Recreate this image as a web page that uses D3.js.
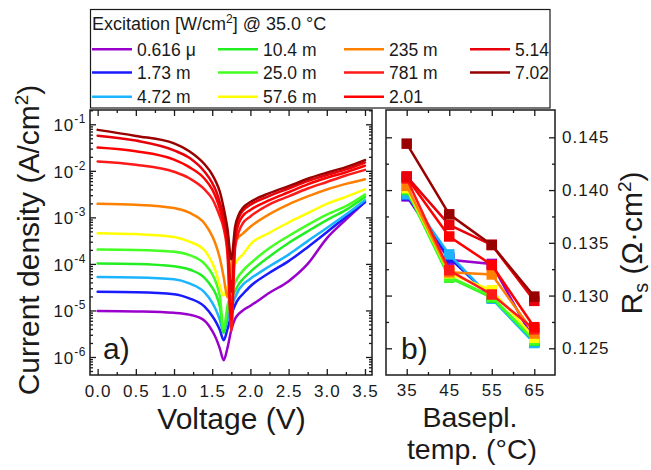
<!DOCTYPE html>
<html><head><meta charset="utf-8">
<script src="https://cdn.jsdelivr.net/npm/d3@7"></script>
<style>
body{margin:0;background:#fff;}
svg{font-family:Arial,"Liberation Sans",sans-serif;}
</style></head><body>
<svg id="chart" width="651" height="470"></svg>
<script>
// ---------- data ----------
const seriesNames = ["0.616 \u03bc","1.73 m","4.72 m","10.4 m","25.0 m","57.6 m","235 m","781 m","2.01","5.14","7.02"];
const seriesColors = ["#9900cc","#1a1aff","#1ab4ff","#22ee22","#44ff22","#ffff00","#ff8000","#ff1a1a","#ff0000","#e8000a","#990000"];

// voltage grid (V)
const voltage = [0, 0.5, 1.0, 1.2, 1.4, 1.5, 1.55, 1.6, 1.65, 1.7, 1.75, 1.8, 1.85, 1.9, 2.0, 2.25, 2.5, 2.75, 3.0, 3.25, 3.5];
// log10 of |current density| (A/cm^2), one array per excitation
const logJ_0616u = [-5.01,-5.02,-5.05,-5.09,-5.22,-5.44,-5.60,-5.82,-6.07,-5.80,-5.42,-5.18,-5.07,-5.00,-4.90,-4.62,-4.37,-4.00,-3.45,-3.05,-2.67];
const logJ_173m  = [-4.60,-4.61,-4.65,-4.74,-4.92,-5.12,-5.25,-5.42,-5.64,-5.40,-5.10,-4.88,-4.74,-4.65,-4.48,-4.19,-3.94,-3.64,-3.32,-2.99,-2.67];
const logJ_472m  = [-4.28,-4.29,-4.33,-4.42,-4.61,-4.83,-4.99,-5.20,-5.48,-5.20,-4.92,-4.72,-4.55,-4.45,-4.32,-4.05,-3.80,-3.51,-3.23,-2.94,-2.63];
const logJ_104m  = [-3.99,-4.00,-4.05,-4.12,-4.30,-4.51,-4.66,-4.92,-5.48,-5.00,-4.75,-4.58,-4.43,-4.33,-4.17,-3.84,-3.55,-3.30,-3.06,-2.84,-2.56];
const logJ_250m  = [-3.69,-3.70,-3.74,-3.81,-4.00,-4.22,-4.40,-4.70,-5.40,-4.90,-4.60,-4.40,-4.25,-4.15,-3.99,-3.66,-3.40,-3.16,-2.94,-2.76,-2.51];
const logJ_576m  = [-3.34,-3.36,-3.42,-3.52,-3.71,-3.98,-4.18,-4.48,-4.68,-4.50,-4.20,-4.00,-3.88,-3.80,-3.58,-3.33,-3.11,-2.91,-2.71,-2.56,-2.40];
const logJ_235m  = [-2.71,-2.73,-2.80,-2.90,-3.13,-3.40,-3.60,-3.88,-4.28,-4.72,-4.00,-3.55,-3.42,-3.35,-3.20,-2.93,-2.72,-2.55,-2.40,-2.28,-2.18];
const logJ_781m  = [-1.80,-1.87,-2.02,-2.16,-2.40,-2.60,-2.77,-2.98,-3.24,-3.80,-5.45,-3.65,-3.30,-3.13,-2.98,-2.72,-2.55,-2.38,-2.24,-2.10,-1.98];
const logJ_201   = [-1.50,-1.58,-1.76,-1.92,-2.17,-2.40,-2.58,-2.82,-3.13,-3.65,-5.20,-3.50,-3.12,-2.97,-2.84,-2.63,-2.46,-2.29,-2.15,-2.03,-1.89];
const logJ_514   = [-1.245,-1.35,-1.56,-1.72,-2.02,-2.26,-2.43,-2.68,-3.00,-3.50,-4.60,-3.35,-3.00,-2.86,-2.73,-2.54,-2.38,-2.22,-2.09,-1.97,-1.82];
const logJ_702   = [-1.12,-1.25,-1.41,-1.58,-1.86,-2.08,-2.24,-2.45,-2.80,-3.25,-3.90,-3.20,-2.93,-2.80,-2.67,-2.48,-2.33,-2.17,-2.04,-1.92,-1.77];

// series resistance (Ohm cm^2) vs baseplate temperature
const temperatures = [35, 45, 55, 65];
const rs_0616u = [0.1394, 0.1334, 0.1330, 0.1257];
const rs_173m  = [0.1395, 0.1336, 0.1298, 0.1256];
const rs_472m  = [0.1396, 0.1339, 0.1297, 0.1255];
const rs_104m  = [0.1400, 0.1317, 0.1298, 0.1257];
const rs_250m  = [0.1401, 0.1318, 0.1299, 0.1258];
const rs_576m  = [0.1402, 0.1321, 0.1305, 0.1260];
const rs_235m  = [0.1404, 0.1322, 0.1320, 0.1264];
const rs_781m  = [0.1411, 0.1324, 0.1301, 0.1268];
const rs_201   = [0.1412, 0.1356, 0.1329, 0.1270];
const rs_514   = [0.1413, 0.1367, 0.1348, 0.1295];
const rs_702   = [0.1444, 0.1377, 0.1348, 0.1299];

// ticks
const voltTicks = [0, 0.5, 1.0, 1.5, 2.0, 2.5, 3.0, 3.5];
const voltMinor = [0.25, 0.75, 1.25, 1.75, 2.25, 2.75, 3.25];
const decadeExps = [-6, -5, -4, -3, -2, -1];
const tempTicks = [35, 45, 55, 65];
const tempMinor = [40, 50, 60];
const rsTicks = [0.125, 0.130, 0.135, 0.140, 0.145];
const rsMinor = [0.1275, 0.1325, 0.1375, 0.1425];

const logJSeries = [logJ_0616u, logJ_173m, logJ_472m, logJ_104m, logJ_250m, logJ_576m, logJ_235m, logJ_781m, logJ_201, logJ_514, logJ_702];
const rsSeries = [rs_0616u, rs_173m, rs_472m, rs_104m, rs_250m, rs_576m, rs_235m, rs_781m, rs_201, rs_514, rs_702];

// ---------- drawing ----------
const svg = d3.select("#chart");
const INK = "#1a1a1a";
const tickFont = 17;

const A = {x0: 90, x1: 372, y0: 110, y1: 375};
const B = {x0: 386, x1: 555, y0: 110, y1: 375};

const xV = d3.scaleLinear().domain([-0.1, 3.592]).range([A.x0, A.x1]);
const yJ = d3.scaleLog().domain([Math.pow(10, -6.387), Math.pow(10, -0.693)]).range([A.y1, A.y0]);
const xT = d3.scaleLinear().domain([30.13, 69.87]).range([B.x0, B.x1]);
const yR = d3.scaleLinear().domain([0.12247, 0.14759]).range([B.y1, B.y0]);

const defs = svg.append("defs");
defs.append("clipPath").attr("id", "clipA").append("rect")
  .attr("x", A.x0).attr("y", A.y0).attr("width", A.x1 - A.x0).attr("height", A.y1 - A.y0);
defs.append("clipPath").attr("id", "clipB").append("rect")
  .attr("x", B.x0).attr("y", B.y0).attr("width", B.x1 - B.x0).attr("height", B.y1 - B.y0);

// ---- panel a curves
const gA = svg.append("g").attr("clip-path", "url(#clipA)");
const lineJ = d3.line()
  .x(d => xV(d[0]))
  .y(d => yJ(d[1]))
  .curve(d3.curveMonotoneX);
logJSeries.forEach((arr, i) => {
  const pts = voltage.map((v, k) => [v, Math.pow(10, arr[k])]);
  gA.append("path").attr("d", lineJ(pts))
    .attr("fill", "none").attr("stroke", seriesColors[i])
    .attr("stroke-width", 2.5).attr("stroke-linejoin", "round").attr("stroke-linecap", "round");
});

// ---- panel b
const gB = svg.append("g").attr("clip-path", "url(#clipB)");
const lineR = d3.line().x(d => xT(d[0])).y(d => yR(d[1]));
const sq = 10.5;
rsSeries.forEach((arr, i) => {
  const pts = temperatures.map((t, k) => [t, arr[k]]);
  gB.append("path").attr("d", lineR(pts))
    .attr("fill", "none").attr("stroke", seriesColors[i]).attr("stroke-width", 2.5);
  gB.selectAll(null).data(pts).enter().append("rect")
    .attr("x", d => xT(d[0]) - sq / 2).attr("y", d => yR(d[1]) - sq / 2)
    .attr("width", sq).attr("height", sq).attr("fill", seriesColors[i]);
});

// ---- frames & ticks
function axisTicks(g, scale, vals, len, orient, pos) {
  const ax = (orient === "bottom" ? d3.axisBottom(scale) : orient === "top" ? d3.axisTop(scale)
            : orient === "left" ? d3.axisLeft(scale) : d3.axisRight(scale))
    .tickValues(vals).tickSizeInner(-len).tickSizeOuter(0).tickFormat(() => "");
  const gg = g.append("g");
  if (orient === "bottom" || orient === "top") gg.attr("transform", `translate(0,${pos})`);
  else gg.attr("transform", `translate(${pos},0)`);
  gg.call(ax);
  gg.select(".domain").remove();
  gg.selectAll("text").remove();
  gg.selectAll("line").attr("stroke", INK).attr("stroke-width", 1.3);
}
const axA = svg.append("g");
axisTicks(axA, xV, voltTicks, 6, "bottom", A.y1);
axisTicks(axA, xV, voltMinor, 3, "bottom", A.y1);
axisTicks(axA, xV, voltTicks, 6, "top", A.y0);
axisTicks(axA, xV, voltMinor, 3, "top", A.y0);
const decVals = decadeExps.map(e => Math.pow(10, e));
const minorLog = [];
for (let e = -7; e <= -1; e++) for (let m = 2; m <= 9; m++) {
  const v = m * Math.pow(10, e);
  if (v > yJ.domain()[0] && v < yJ.domain()[1]) minorLog.push(v);
}
axisTicks(axA, yJ, decVals, 6, "left", A.x0);
axisTicks(axA, yJ, minorLog, 3, "left", A.x0);
axisTicks(axA, yJ, decVals, 6, "right", A.x1);
axisTicks(axA, yJ, minorLog, 3, "right", A.x1);

const axB = svg.append("g");
axisTicks(axB, xT, tempTicks, 6, "bottom", B.y1);
axisTicks(axB, xT, tempMinor, 3, "bottom", B.y1);
axisTicks(axB, xT, tempTicks, 6, "top", B.y0);
axisTicks(axB, xT, tempMinor, 3, "top", B.y0);
axisTicks(axB, yR, rsTicks, 6, "left", B.x0);
axisTicks(axB, yR, rsMinor, 3, "left", B.x0);
axisTicks(axB, yR, rsTicks, 6, "right", B.x1);
axisTicks(axB, yR, rsMinor, 3, "right", B.x1);

[A, B].forEach(p => svg.append("rect")
  .attr("x", p.x0).attr("y", p.y0).attr("width", p.x1 - p.x0).attr("height", p.y1 - p.y0)
  .attr("fill", "none").attr("stroke", INK).attr("stroke-width", 1.5));

// ---- tick labels
svg.append("g").selectAll("text").data(voltTicks).enter().append("text")
  .attr("x", d => xV(d) + 0.5).attr("y", 397).attr("text-anchor", "middle")
  .attr("font-size", tickFont).attr("letter-spacing", 1).attr("fill", INK)
  .text(d => d.toFixed(1));

const yl = svg.append("g").selectAll("text").data(decadeExps).enter().append("text")
  .attr("x", 86).attr("y", d => yJ(Math.pow(10, d)) + 7).attr("text-anchor", "end")
  .attr("font-size", tickFont).attr("letter-spacing", 1).attr("fill", INK);
yl.append("tspan").text("10");
yl.append("tspan").attr("dy", -8).attr("font-size", 12).attr("letter-spacing", 0.5).text(d => "-" + Math.abs(d));

svg.append("g").selectAll("text").data(tempTicks).enter().append("text")
  .attr("x", d => xT(d) + 0.5).attr("y", 396).attr("text-anchor", "middle")
  .attr("font-size", tickFont).attr("letter-spacing", 1).attr("fill", INK)
  .text(d => d);

svg.append("g").selectAll("text").data(rsTicks).enter().append("text")
  .attr("x", 562).attr("y", d => yR(d) + 6).attr("text-anchor", "start")
  .attr("font-size", tickFont).attr("letter-spacing", 1).attr("fill", INK)
  .text(d => d.toFixed(3));

// ---- axis titles
const titleFont = 30;
svg.append("text").attr("x", 231.5).attr("y", 429).attr("text-anchor", "middle")
  .attr("font-size", titleFont).attr("fill", INK).text("Voltage (V)");

const yt = svg.append("text").attr("transform", "translate(39,240) rotate(-90)")
  .attr("text-anchor", "middle").attr("font-size", titleFont).attr("fill", INK);
yt.append("tspan").text("Current density (A/cm");
yt.append("tspan").attr("dy", -11).attr("font-size", 19).text("2");
yt.append("tspan").attr("dy", 11).text(")");

svg.append("text").attr("x", 470).attr("y", 426.5).attr("text-anchor", "middle")
  .attr("font-size", 28.5).attr("fill", INK).text("Basepl.");
svg.append("text").attr("x", 472).attr("y", 459).attr("text-anchor", "middle")
  .attr("font-size", 28.5).attr("fill", INK).text("temp. (\u00b0C)");

const rt = svg.append("text").attr("transform", "translate(642,243) rotate(-90)")
  .attr("text-anchor", "middle").attr("font-size", titleFont).attr("fill", INK);
rt.append("tspan").text("R");
rt.append("tspan").attr("dy", 6).attr("font-size", 20).text("s");
rt.append("tspan").attr("dy", -6).text(" (\u03a9\u00b7cm");
rt.append("tspan").attr("dy", -11).attr("font-size", 19).text("2");
rt.append("tspan").attr("dy", 11).text(")");

svg.append("text").attr("x", 103).attr("y", 359).attr("font-size", titleFont).attr("fill", INK).text("a)");
svg.append("text").attr("x", 401).attr("y", 359).attr("font-size", titleFont).attr("fill", INK).text("b)");

// ---- legend
const lg = svg.append("g");
lg.append("rect").attr("x", 90.5).attr("y", 9.5).attr("width", 459.5).attr("height", 98.5)
  .attr("fill", "#fff").attr("stroke", INK).attr("stroke-width", 1.2);
const lt = lg.append("text").attr("x", 92).attr("y", 29.5).attr("font-size", 18).attr("fill", INK);
lt.append("tspan").text("Excitation [W/cm");
lt.append("tspan").attr("dy", -7).attr("font-size", 12).text("2");
lt.append("tspan").attr("dy", 7).text("] @ 35.0 \u00b0C");
const rowY = [49.3, 72.5, 96.7];
seriesNames.forEach((name, i) => {
  const col = Math.floor(i / 3), row = i % 3;
  const x = 92 + col * 126, y = rowY[row];
  lg.append("line").attr("x1", x).attr("x2", x + 40).attr("y1", y).attr("y2", y)
    .attr("stroke", seriesColors[i]).attr("stroke-width", 2.5);
  lg.append("text").attr("x", x + 45).attr("y", y + 6.5).attr("font-size", 17.5).attr("fill", INK).text(name);
});
</script>
</body></html>
